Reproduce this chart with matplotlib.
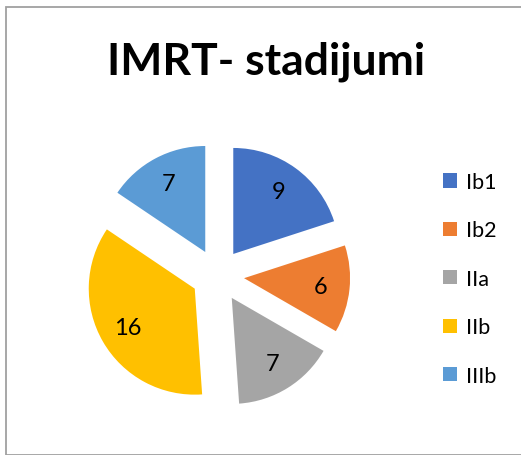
import matplotlib
matplotlib.use("Agg")
import matplotlib.pyplot as plt
from matplotlib.patches import Rectangle

categories = ["Ib1", "Ib2", "IIa", "IIb", "IIIb"]
values = [9, 6, 7, 16, 7]
colors = ["#4472C4", "#ED7D31", "#A5A5A5", "#FFC000", "#5B9BD5"]
title = "IMRT- stadijumi"

W, H = 521, 456
fig = plt.figure(figsize=(W / 100, H / 100), dpi=100)
plt.rcParams['font.family'] = ['Lato', 'DejaVu Sans']

ax = fig.add_axes([0, 0, 1, 1])

r = 106
wedges, texts, autotexts = ax.pie(
    values, colors=colors, startangle=90, counterclock=False,
    center=(217.7, H - 276.4), radius=r, explode=[26.5] * len(values),
    autopct=lambda p: f"{round(p * sum(values) / 100):d}", pctdistance=0.73,
    textprops=dict(fontsize=17, color='black'), frame=True)
ax.set_xlim(0, W)
ax.set_ylim(0, H)
ax.set_aspect('equal')
ax.axis('off')

fig.text(266.5 / W, (H - 75) / H, title, ha='center', va='baseline',
         fontsize=32, fontweight='bold')

leg = ax.legend(wedges, categories, loc='upper left',
                bbox_to_anchor=(443 / W, 1 - 173 / H), bbox_transform=fig.transFigure,
                frameon=False, fontsize=15.5, handlelength=0.65, handleheight=0.65,
                handletextpad=0.4, labelspacing=1.32, borderpad=0, borderaxespad=0)

fig.patches.append(Rectangle((5.5 / W, 0), 1, 1 - 8 / H, transform=fig.transFigure,
                             fill=False, edgecolor='#A0A0A0', linewidth=1.3))

fig.savefig("out.png", dpi=100)
